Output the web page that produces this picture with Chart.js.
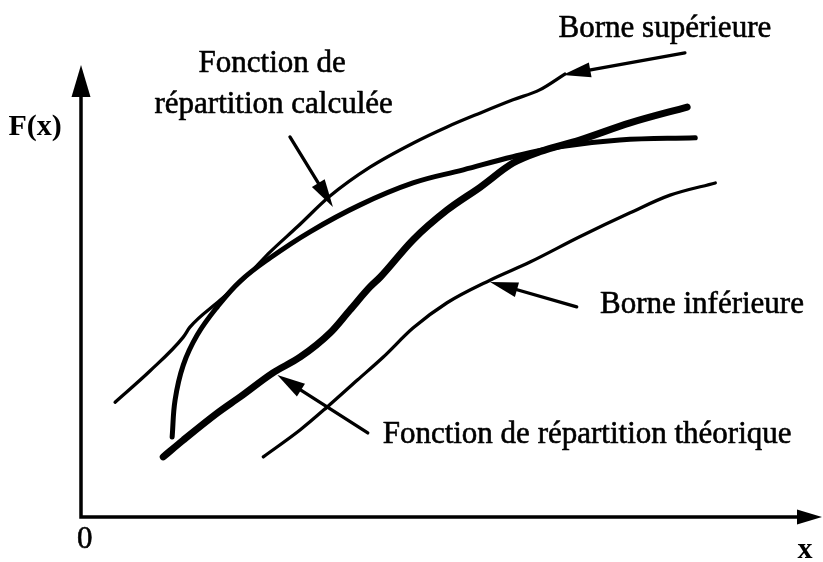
<!DOCTYPE html>
<html>
<head>
<meta charset="utf-8">
<script src="https://cdn.jsdelivr.net/npm/chart.js@4"></script>
<style>
html,body{margin:0;padding:0;background:#fff;}
#wrap{width:823px;height:562px;}
</style>
</head>
<body>
<div id="wrap"><canvas id="c" width="823" height="562"></canvas></div>
<script>
// ---- data (schematic units: 0..100 along each axis) ----
const upperX = [4.6, 9.3, 13.8, 14.7, 18.8, 22.8, 25.5, 29.2, 33.6, 39.0, 44.8, 49.4, 53.9, 58.3, 61.9, 65.3];
const upperY = [25.4, 32.3, 39.8, 42.0, 48.0, 54.0, 58.6, 64.2, 71.0, 77.4, 82.7, 86.3, 89.4, 92.3, 94.5, 98.0];

const calcX = [12.3, 12.7, 13.8, 15.7, 18.4, 21.5, 25.5, 30.9, 37.6, 44.8, 51.6, 58.3, 64.6, 72.7, 82.9];
const calcY = [17.7, 25.9, 33.6, 40.3, 46.5, 52.2, 57.3, 63.1, 69.0, 73.9, 76.8, 79.7, 81.9, 83.4, 83.9];

const theoX = [11.1, 13.8, 18.4, 21.5, 25.9, 29.6, 33.6, 36.3, 39.0, 40.4, 44.8, 49.4, 53.9, 58.3, 61.9, 67.3, 74.1, 81.8];
const theoY = [13.3, 17.0, 23.0, 26.6, 31.9, 35.4, 40.7, 45.8, 50.9, 53.1, 61.3, 67.9, 73.0, 78.3, 80.8, 83.4, 87.2, 90.7];

const lowerX = [24.6, 29.6, 33.2, 37.3, 40.8, 44.8, 49.4, 55.2, 60.6, 67.3, 74.1, 79.5, 85.6];
const lowerY = [13.3, 19.3, 24.3, 30.3, 35.4, 41.8, 47.4, 52.4, 56.4, 62.0, 67.3, 71.2, 73.9];

const xTickLabels = ['0'];
const xAxisLabel = 'x';
const yAxisLabel = 'F(x)';

// annotation labels and arrows
const labelTexts = ['Fonction de', 'répartition calculée', 'Borne supérieure', 'Borne inférieure', 'Fonction de répartition théorique'];
const labelX = [25.8, 26.0, 78.8, 83.8, 68.3];
const labelY = [98.5, 89.4, 106.2, 45.1, 16.4];

const arrowFromX = [28.2, 81.5, 38.7, 66.9];
const arrowFromY = [84.1, 102.7, 18.6, 46.5];
const arrowToX = [34.0, 65.0, 26.5, 55.2];
const arrowToY = [68.6, 97.8, 31.4, 52.0];

function pts(xs, ys){ return xs.map((x,i)=>({x:x, y:ys[i]})); }

const FONT = '"Liberation Serif","Times New Roman",serif';

function arrowHead(ctx, x1, y1, x2, y2, len, width){
  const a = Math.atan2(y2-y1, x2-x1);
  const bx = x2 - len*Math.cos(a), by = y2 - len*Math.sin(a);
  const nx = -Math.sin(a)*width/2, ny = Math.cos(a)*width/2;
  ctx.beginPath();
  ctx.moveTo(x2, y2);
  ctx.lineTo(bx+nx, by+ny);
  ctx.lineTo(bx-nx, by-ny);
  ctx.closePath();
  ctx.fill();
}

function heavyText(ctx, t, x, y){
  ctx.fillText(t, x, y);
  ctx.strokeText(t, x, y);
}

const schematic = {
  id: 'schematic',
  beforeDatasetsDraw(chart){
    const ctx = chart.ctx, xs = chart.scales.x, ys = chart.scales.y;
    const ox = xs.getPixelForValue(0), oy = ys.getPixelForValue(0);
    const ex = xs.getPixelForValue(100), ey = ys.getPixelForValue(100);
    ctx.save();
    ctx.strokeStyle = '#000'; ctx.fillStyle = '#000';
    ctx.lineWidth = 3.5; ctx.lineCap = 'butt';
    ctx.beginPath();
    ctx.moveTo(ox, oy+1.7); ctx.lineTo(ox, ey+25);
    ctx.moveTo(ox-1.7, oy); ctx.lineTo(ex-20, oy);
    ctx.stroke();
    arrowHead(ctx, ox, oy, ox, ey, 32, 19);
    arrowHead(ctx, ox, oy, ex, oy, 25, 15);
    ctx.restore();
  },
  afterDatasetsDraw(chart){
    const ctx = chart.ctx, xs = chart.scales.x, ys = chart.scales.y;
    const X = v => xs.getPixelForValue(v), Y = v => ys.getPixelForValue(v);
    ctx.save();
    ctx.strokeStyle = '#000'; ctx.fillStyle = '#000';
    // arrows
    ctx.lineWidth = 3.3; ctx.lineCap = 'round';
    for (let i=0;i<arrowFromX.length;i++){
      const x1=X(arrowFromX[i]), y1=Y(arrowFromY[i]), x2=X(arrowToX[i]), y2=Y(arrowToY[i]);
      const a = Math.atan2(y2-y1, x2-x1);
      ctx.beginPath();
      ctx.moveTo(x1,y1);
      ctx.lineTo(x2-20*Math.cos(a), y2-20*Math.sin(a));
      ctx.stroke();
      arrowHead(ctx, x1, y1, x2, y2, 28, 15);
    }
    // labels
    ctx.textBaseline = 'alphabetic';
    ctx.textAlign = 'center';
    ctx.lineWidth = 0.6; ctx.lineJoin = 'round';
    ctx.font = '31px ' + FONT;
    for (let i=0;i<labelTexts.length;i++){
      heavyText(ctx, labelTexts[i], X(labelX[i]), Y(labelY[i]));
    }
    // axis labels
    heavyText(ctx, xTickLabels[0], X(0.5), Y(-6.9));
    ctx.font = 'bold 30px ' + FONT;
    ctx.fillText(xAxisLabel, X(97.7), Y(-9.1));
    ctx.fillText(yAxisLabel, X(-6.2), Y(84.5));
    ctx.restore();
  }
};

const common = {showLine:true, pointRadius:0, borderColor:'#000', backgroundColor:'#000', fill:false, cubicInterpolationMode:'monotone', borderCapStyle:'round', borderJoinStyle:'round', clip:false};

new Chart(document.getElementById('c'), {
  type: 'scatter',
  data: {
    datasets: [
      Object.assign({label:'Borne supérieure', data: pts(upperX, upperY), borderWidth:3.3}, common),
      Object.assign({label:'Borne inférieure', data: pts(lowerX, lowerY), borderWidth:3.3}, common),
      Object.assign({label:'Fonction de répartition calculée', data: pts(calcX, calcY), borderWidth:5}, common, {cubicInterpolationMode:'default', tension:0.4}),
      Object.assign({label:'Fonction de répartition théorique', data: pts(theoX, theoY), borderWidth:7}, common)
    ]
  },
  options: {
    responsive:false,
    animation:false,
    layout:{padding:{left:81, right:1, top:65, bottom:45}},
    plugins:{legend:{display:false}, tooltip:{enabled:false}},
    scales:{
      x:{type:'linear', min:0, max:100, display:false},
      y:{type:'linear', min:0, max:100, display:false}
    }
  },
  plugins:[schematic]
});
</script>
</body>
</html>
